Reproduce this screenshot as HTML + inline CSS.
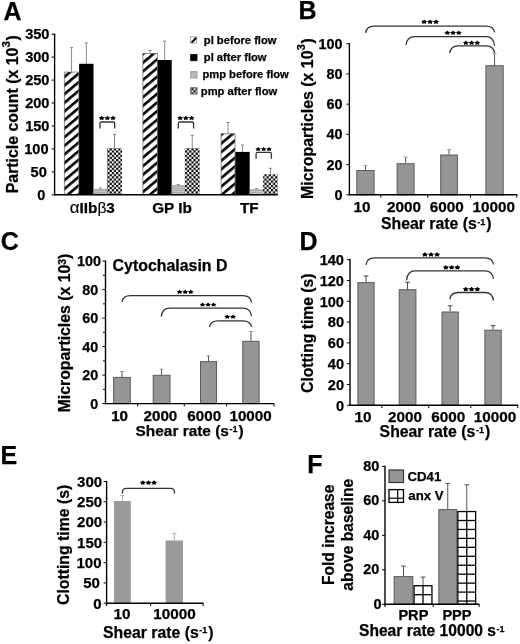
<!DOCTYPE html>
<html><head><meta charset="utf-8"><style>
html,body{margin:0;padding:0;background:#fff;}
body{width:520px;height:644px;overflow:hidden;}
svg{display:block;font-family:"Liberation Sans", sans-serif;will-change:transform;}
text{stroke:#000;stroke-width:0.25px;paint-order:stroke;}
</style></head><body>
<svg width="520" height="644" viewBox="0 0 520 644">
<rect width="520" height="644" fill="#fff"/>
<defs>
<pattern id="hatch" patternUnits="userSpaceOnUse" width="6.6" height="6.6" patternTransform="rotate(-40)">
<rect width="6.6" height="6.6" fill="#fff"/><rect y="0" width="6.6" height="2.6" fill="#000"/>
</pattern>
<pattern id="checker" patternUnits="userSpaceOnUse" width="4.3" height="4.3">
<rect width="4.3" height="4.3" fill="#fff"/><rect width="2.15" height="2.15" fill="#000"/><rect x="2.15" y="2.15" width="2.15" height="2.15" fill="#000"/>
</pattern>
<pattern id="grayln" patternUnits="userSpaceOnUse" width="4" height="2">
<rect width="4" height="2" fill="#c6c6c6"/><rect width="4" height="1" fill="#a8a8a8"/>
</pattern>
<pattern id="grid" patternUnits="userSpaceOnUse" x="0" y="600.4" width="9.6" height="8.95">
<rect width="9.6" height="8.95" fill="#fff"/><rect width="9.6" height="1.4" fill="#000"/>
</pattern>
</defs>
<text x="3.60" y="19.50" font-size="25" text-anchor="start" font-weight="bold" fill="#000" >A</text>
<line x1="71.55" y1="47.60" x2="71.55" y2="71.80" stroke="#8a8a8a" stroke-width="1"/>
<line x1="69.95" y1="47.60" x2="73.15" y2="47.60" stroke="#8a8a8a" stroke-width="1"/>
<line x1="86.30" y1="43.00" x2="86.30" y2="63.80" stroke="#8a8a8a" stroke-width="1"/>
<line x1="84.70" y1="43.00" x2="87.90" y2="43.00" stroke="#8a8a8a" stroke-width="1"/>
<line x1="100.25" y1="188.00" x2="100.25" y2="189.20" stroke="#8a8a8a" stroke-width="1"/>
<line x1="98.65" y1="188.00" x2="101.85" y2="188.00" stroke="#8a8a8a" stroke-width="1"/>
<line x1="114.50" y1="134.50" x2="114.50" y2="148.10" stroke="#8a8a8a" stroke-width="1"/>
<line x1="112.90" y1="134.50" x2="116.10" y2="134.50" stroke="#8a8a8a" stroke-width="1"/>
<rect x="64.30" y="72.10" width="14.50" height="122.70" fill="url(#hatch)" stroke="#666" stroke-width="0.7"/>
<rect x="79.10" y="63.80" width="14.40" height="131.00" fill="#000" stroke="none" stroke-width="1"/>
<rect x="93.80" y="189.20" width="12.90" height="5.60" fill="url(#grayln)" stroke="#999" stroke-width="0.6"/>
<rect x="107.00" y="148.10" width="15.00" height="46.70" fill="url(#checker)" stroke="none" stroke-width="1"/>
<line x1="150.10" y1="50.50" x2="150.10" y2="53.10" stroke="#8a8a8a" stroke-width="1"/>
<line x1="148.50" y1="50.50" x2="151.70" y2="50.50" stroke="#8a8a8a" stroke-width="1"/>
<line x1="164.65" y1="41.20" x2="164.65" y2="60.00" stroke="#8a8a8a" stroke-width="1"/>
<line x1="163.05" y1="41.20" x2="166.25" y2="41.20" stroke="#8a8a8a" stroke-width="1"/>
<line x1="178.25" y1="184.50" x2="178.25" y2="185.70" stroke="#8a8a8a" stroke-width="1"/>
<line x1="176.65" y1="184.50" x2="179.85" y2="184.50" stroke="#8a8a8a" stroke-width="1"/>
<line x1="192.25" y1="135.40" x2="192.25" y2="148.10" stroke="#8a8a8a" stroke-width="1"/>
<line x1="190.65" y1="135.40" x2="193.85" y2="135.40" stroke="#8a8a8a" stroke-width="1"/>
<rect x="142.90" y="53.40" width="14.40" height="141.40" fill="url(#hatch)" stroke="#666" stroke-width="0.7"/>
<rect x="157.60" y="60.00" width="14.10" height="134.80" fill="#000" stroke="none" stroke-width="1"/>
<rect x="172.00" y="185.70" width="12.50" height="9.10" fill="url(#grayln)" stroke="#999" stroke-width="0.6"/>
<rect x="184.80" y="148.10" width="14.90" height="46.70" fill="url(#checker)" stroke="none" stroke-width="1"/>
<line x1="228.05" y1="122.50" x2="228.05" y2="133.50" stroke="#8a8a8a" stroke-width="1"/>
<line x1="226.45" y1="122.50" x2="229.65" y2="122.50" stroke="#8a8a8a" stroke-width="1"/>
<line x1="242.50" y1="145.00" x2="242.50" y2="151.90" stroke="#8a8a8a" stroke-width="1"/>
<line x1="240.90" y1="145.00" x2="244.10" y2="145.00" stroke="#8a8a8a" stroke-width="1"/>
<line x1="256.40" y1="188.60" x2="256.40" y2="189.80" stroke="#8a8a8a" stroke-width="1"/>
<line x1="254.80" y1="188.60" x2="258.00" y2="188.60" stroke="#8a8a8a" stroke-width="1"/>
<line x1="270.40" y1="168.30" x2="270.40" y2="174.20" stroke="#8a8a8a" stroke-width="1"/>
<line x1="268.80" y1="168.30" x2="272.00" y2="168.30" stroke="#8a8a8a" stroke-width="1"/>
<rect x="221.10" y="133.80" width="13.90" height="61.00" fill="url(#hatch)" stroke="#666" stroke-width="0.7"/>
<rect x="235.30" y="151.90" width="14.40" height="42.90" fill="#000" stroke="none" stroke-width="1"/>
<rect x="250.00" y="189.80" width="12.80" height="5.00" fill="url(#grayln)" stroke="#999" stroke-width="0.6"/>
<rect x="263.10" y="174.20" width="14.60" height="20.60" fill="url(#checker)" stroke="none" stroke-width="1"/>
<line x1="54.60" y1="33.60" x2="54.60" y2="195.40" stroke="#000" stroke-width="1.4"/>
<line x1="54.00" y1="194.80" x2="277.90" y2="194.80" stroke="#000" stroke-width="1.4"/>
<line x1="51.60" y1="194.80" x2="54.60" y2="194.80" stroke="#000" stroke-width="1.0"/>
<line x1="51.60" y1="171.86" x2="54.60" y2="171.86" stroke="#000" stroke-width="1.0"/>
<line x1="51.60" y1="148.91" x2="54.60" y2="148.91" stroke="#000" stroke-width="1.0"/>
<line x1="51.60" y1="125.97" x2="54.60" y2="125.97" stroke="#000" stroke-width="1.0"/>
<line x1="51.60" y1="103.03" x2="54.60" y2="103.03" stroke="#000" stroke-width="1.0"/>
<line x1="51.60" y1="80.09" x2="54.60" y2="80.09" stroke="#000" stroke-width="1.0"/>
<line x1="51.60" y1="57.14" x2="54.60" y2="57.14" stroke="#000" stroke-width="1.0"/>
<line x1="51.60" y1="34.20" x2="54.60" y2="34.20" stroke="#000" stroke-width="1.0"/>
<text x="45.40" y="200.00" font-size="14.6" text-anchor="end" font-weight="bold" fill="#000" >0</text>
<text x="46.80" y="177.06" font-size="14.6" text-anchor="end" font-weight="bold" fill="#000" >50</text>
<text x="48.60" y="154.11" font-size="14.6" text-anchor="end" font-weight="bold" fill="#000" >100</text>
<text x="49.50" y="131.17" font-size="14.6" text-anchor="end" font-weight="bold" fill="#000" >150</text>
<text x="49.50" y="108.23" font-size="14.6" text-anchor="end" font-weight="bold" fill="#000" >200</text>
<text x="49.50" y="85.29" font-size="14.6" text-anchor="end" font-weight="bold" fill="#000" >250</text>
<text x="49.50" y="62.34" font-size="14.6" text-anchor="end" font-weight="bold" fill="#000" >300</text>
<text x="49.50" y="39.40" font-size="14.6" text-anchor="end" font-weight="bold" fill="#000" >350</text>
<text transform="translate(18.20,193.30) rotate(-90)" font-size="15.90" text-anchor="start" font-weight="bold">Particle count (x 10<tspan dy="-7.9" font-size="11.5">3</tspan><tspan dy="7.9" dx="0.6">)</tspan></text>
<path d="M100.00,128.60 L100.00,123.50 Q100.00,122.00 101.50,122.00 L113.20,122.00 Q114.70,122.00 114.70,123.50 L114.70,128.60" fill="none" stroke="#333" stroke-width="1.3"/>
<polygon points="101.72,115.78 102.76,117.07 104.72,117.41 103.40,118.54 103.57,120.04 101.72,119.45 99.86,120.04 100.04,118.54 98.72,117.41 100.68,117.07" fill="#000"/>
<polygon points="107.35,115.78 108.39,117.07 110.35,117.41 109.03,118.54 109.20,120.04 107.35,119.45 105.50,120.04 105.67,118.54 104.35,117.41 106.31,117.07" fill="#000"/>
<polygon points="112.98,115.78 114.02,117.07 115.98,117.41 114.66,118.54 114.84,120.04 112.98,119.45 111.13,120.04 111.30,118.54 109.98,117.41 111.94,117.07" fill="#000"/>
<path d="M178.30,128.60 L178.30,123.50 Q178.30,122.00 179.80,122.00 L192.10,122.00 Q193.60,122.00 193.60,123.50 L193.60,128.60" fill="none" stroke="#333" stroke-width="1.3"/>
<polygon points="180.15,115.78 181.20,117.07 183.19,117.41 181.85,118.54 182.03,120.04 180.15,119.45 178.27,120.04 178.45,118.54 177.11,117.41 179.10,117.07" fill="#000"/>
<polygon points="185.85,115.78 186.90,117.07 188.89,117.41 187.55,118.54 187.73,120.04 185.85,119.45 183.97,120.04 184.15,118.54 182.81,117.41 184.80,117.07" fill="#000"/>
<polygon points="191.55,115.78 192.60,117.07 194.59,117.41 193.25,118.54 193.43,120.04 191.55,119.45 189.67,120.04 189.85,118.54 188.51,117.41 190.50,117.07" fill="#000"/>
<path d="M256.10,158.70 L256.10,153.90 Q256.10,152.40 257.60,152.40 L269.90,152.40 Q271.40,152.40 271.40,153.90 L271.40,158.70" fill="none" stroke="#333" stroke-width="1.3"/>
<polygon points="258.13,146.98 259.14,148.21 261.04,148.53 259.76,149.61 259.93,151.04 258.13,150.48 256.33,151.04 256.50,149.61 255.22,148.53 257.13,148.21" fill="#000"/>
<polygon points="263.60,146.98 264.61,148.21 266.51,148.53 265.23,149.61 265.40,151.04 263.60,150.48 261.80,151.04 261.97,149.61 260.69,148.53 262.59,148.21" fill="#000"/>
<polygon points="269.07,146.98 270.07,148.21 271.98,148.53 270.70,149.61 270.87,151.04 269.07,150.48 267.27,151.04 267.44,149.61 266.16,148.53 268.06,148.21" fill="#000"/>
<text x="92.30" y="213.00" font-size="15.3" text-anchor="middle" font-weight="bold" fill="#000" ><tspan font-weight="normal" font-size="17" stroke-width="0.15">&#945;</tspan>IIb<tspan font-weight="normal" font-size="15.5" stroke-width="0.15">&#946;</tspan>3</text>
<text x="172.00" y="213.00" font-size="15.3" text-anchor="middle" font-weight="bold" fill="#000" >GP Ib</text>
<text x="249.30" y="212.70" font-size="15.3" text-anchor="middle" font-weight="bold" fill="#000" >TF</text>
<rect x="190.40" y="36.80" width="6.30" height="6.30" fill="#fff" stroke="#999" stroke-width="0.8"/>
<line x1="191.60" y1="42.60" x2="196.30" y2="37.80" stroke="#000" stroke-width="2.0"/>
<rect x="190.70" y="54.40" width="6.30" height="6.30" fill="#000" stroke="#000" stroke-width="0.8"/>
<rect x="190.70" y="71.70" width="6.30" height="6.30" fill="#bbb" stroke="#888" stroke-width="0.8"/>
<rect x="190.70" y="87.70" width="6.30" height="6.30" fill="url(#checker)" stroke="#555" stroke-width="0.8"/>
<text x="203.80" y="43.60" font-size="11.2" text-anchor="start" font-weight="bold" fill="#000" >pl before flow</text>
<text x="203.80" y="60.80" font-size="11.2" text-anchor="start" font-weight="bold" fill="#000" >pl after flow</text>
<text x="202.40" y="78.00" font-size="11.2" text-anchor="start" font-weight="bold" fill="#000" >pmp before flow</text>
<text x="200.80" y="95.00" font-size="11.2" text-anchor="start" font-weight="bold" fill="#000" >pmp after flow</text>
<text x="298.40" y="19.30" font-size="25" text-anchor="start" font-weight="bold" fill="#000" >B</text>
<line x1="365.45" y1="165.70" x2="365.45" y2="170.00" stroke="#555" stroke-width="1"/>
<line x1="363.45" y1="165.70" x2="367.45" y2="165.70" stroke="#999" stroke-width="1"/>
<rect x="356.80" y="170.50" width="17.30" height="24.30" fill="#959595" stroke="#5c5c5c" stroke-width="1"/>
<line x1="405.60" y1="157.10" x2="405.60" y2="163.20" stroke="#555" stroke-width="1"/>
<line x1="403.60" y1="157.10" x2="407.60" y2="157.10" stroke="#999" stroke-width="1"/>
<rect x="397.10" y="163.70" width="17.00" height="31.10" fill="#959595" stroke="#5c5c5c" stroke-width="1"/>
<line x1="449.05" y1="149.60" x2="449.05" y2="154.50" stroke="#555" stroke-width="1"/>
<line x1="447.05" y1="149.60" x2="451.05" y2="149.60" stroke="#999" stroke-width="1"/>
<rect x="440.70" y="155.00" width="16.70" height="39.80" fill="#959595" stroke="#5c5c5c" stroke-width="1"/>
<line x1="494.55" y1="53.80" x2="494.55" y2="65.20" stroke="#555" stroke-width="1"/>
<line x1="492.55" y1="53.80" x2="496.55" y2="53.80" stroke="#999" stroke-width="1"/>
<rect x="485.90" y="65.70" width="17.30" height="129.10" fill="#959595" stroke="#5c5c5c" stroke-width="1"/>
<line x1="349.40" y1="43.10" x2="349.40" y2="195.40" stroke="#000" stroke-width="1.4"/>
<line x1="348.80" y1="194.80" x2="517.20" y2="194.80" stroke="#000" stroke-width="1.4"/>
<line x1="346.40" y1="194.80" x2="349.40" y2="194.80" stroke="#000" stroke-width="1.0"/>
<text x="342.60" y="199.90" font-size="14.4" text-anchor="end" font-weight="bold" fill="#000" >0</text>
<line x1="346.40" y1="164.58" x2="349.40" y2="164.58" stroke="#000" stroke-width="1.0"/>
<text x="342.60" y="169.68" font-size="14.4" text-anchor="end" font-weight="bold" fill="#000" >20</text>
<line x1="346.40" y1="134.36" x2="349.40" y2="134.36" stroke="#000" stroke-width="1.0"/>
<text x="342.60" y="139.46" font-size="14.4" text-anchor="end" font-weight="bold" fill="#000" >40</text>
<line x1="346.40" y1="104.14" x2="349.40" y2="104.14" stroke="#000" stroke-width="1.0"/>
<text x="342.60" y="109.24" font-size="14.4" text-anchor="end" font-weight="bold" fill="#000" >60</text>
<line x1="346.40" y1="73.92" x2="349.40" y2="73.92" stroke="#000" stroke-width="1.0"/>
<text x="342.60" y="79.02" font-size="14.4" text-anchor="end" font-weight="bold" fill="#000" >80</text>
<line x1="346.40" y1="43.70" x2="349.40" y2="43.70" stroke="#000" stroke-width="1.0"/>
<text x="342.60" y="48.80" font-size="14.4" text-anchor="end" font-weight="bold" fill="#000" >100</text>
<line x1="380.80" y1="194.80" x2="380.80" y2="197.60" stroke="#000" stroke-width="1.0"/>
<line x1="427.70" y1="194.80" x2="427.70" y2="197.60" stroke="#000" stroke-width="1.0"/>
<line x1="470.50" y1="194.80" x2="470.50" y2="197.60" stroke="#000" stroke-width="1.0"/>
<line x1="516.80" y1="194.80" x2="516.80" y2="197.60" stroke="#000" stroke-width="1.0"/>
<path d="M365.60,32.90 Q366.60,26.20 374.10,26.20 L486.10,26.20 Q493.60,26.20 494.60,32.40" fill="none" stroke="#333" stroke-width="1.3"/>
<polygon points="424.17,19.38 425.26,20.76 427.33,21.12 425.94,22.34 426.12,23.94 424.17,23.31 422.21,23.94 422.40,22.34 421.01,21.12 423.07,20.76" fill="#000"/>
<polygon points="430.10,19.38 431.19,20.76 433.26,21.12 431.87,22.34 432.05,23.94 430.10,23.31 428.15,23.94 428.33,22.34 426.94,21.12 429.01,20.76" fill="#000"/>
<polygon points="436.03,19.38 437.13,20.76 439.19,21.12 437.80,22.34 437.99,23.94 436.03,23.31 434.08,23.94 434.26,22.34 432.87,21.12 434.94,20.76" fill="#000"/>
<path d="M406.00,45.00 Q407.00,36.60 414.50,36.60 L486.10,36.60 Q493.60,36.60 494.60,45.70" fill="none" stroke="#333" stroke-width="1.3"/>
<polygon points="447.35,30.38 448.40,31.73 450.39,32.08 449.05,33.27 449.23,34.84 447.35,34.23 445.47,34.84 445.65,33.27 444.31,32.08 446.30,31.73" fill="#000"/>
<polygon points="453.05,30.38 454.10,31.73 456.09,32.08 454.75,33.27 454.93,34.84 453.05,34.23 451.17,34.84 451.35,33.27 450.01,32.08 452.00,31.73" fill="#000"/>
<polygon points="458.75,30.38 459.80,31.73 461.79,32.08 460.45,33.27 460.63,34.84 458.75,34.23 456.87,34.84 457.05,33.27 455.71,32.08 457.70,31.73" fill="#000"/>
<path d="M449.70,53.00 Q450.70,45.80 458.20,45.80 L486.10,45.80 Q493.60,45.80 494.60,53.00" fill="none" stroke="#333" stroke-width="1.3"/>
<polygon points="465.87,40.48 466.92,41.83 468.92,42.18 467.58,43.37 467.75,44.94 465.87,44.33 463.98,44.94 464.16,43.37 462.81,42.18 464.81,41.83" fill="#000"/>
<polygon points="471.60,40.48 472.66,41.83 474.65,42.18 473.31,43.37 473.49,44.94 471.60,44.33 469.71,44.94 469.89,43.37 468.55,42.18 470.54,41.83" fill="#000"/>
<polygon points="477.33,40.48 478.39,41.83 480.39,42.18 479.04,43.37 479.22,44.94 477.33,44.33 475.45,44.94 475.62,43.37 474.28,42.18 476.28,41.83" fill="#000"/>
<text x="361.90" y="212.30" font-size="15.3" text-anchor="middle" font-weight="bold" fill="#000" >10</text>
<text x="404.10" y="212.30" font-size="15.3" text-anchor="middle" font-weight="bold" fill="#000" >2000</text>
<text x="446.70" y="212.30" font-size="15.3" text-anchor="middle" font-weight="bold" fill="#000" >6000</text>
<text x="493.80" y="212.30" font-size="15.3" text-anchor="middle" font-weight="bold" fill="#000" >10000</text>
<text x="381.00" y="228.80" font-size="15.8" text-anchor="start" font-weight="bold" fill="#000" >Shear rate (s<tspan dy="-4.3" dx="0.6" font-size="9">-1</tspan><tspan dy="4.3" dx="1">)</tspan></text>
<text transform="translate(313.30,198.90) rotate(-90)" font-size="15.90" text-anchor="start" font-weight="bold">Microparticles (x 10<tspan dy="-8.0" font-size="11.5">3</tspan><tspan dy="8.0" dx="0.6">)</tspan></text>
<text x="0.80" y="249.90" font-size="25" text-anchor="start" font-weight="bold" fill="#000" >C</text>
<line x1="121.95" y1="371.50" x2="121.95" y2="376.90" stroke="#555" stroke-width="1"/>
<line x1="119.95" y1="371.50" x2="123.95" y2="371.50" stroke="#999" stroke-width="1"/>
<rect x="113.60" y="377.40" width="16.70" height="26.20" fill="#959595" stroke="#5c5c5c" stroke-width="1"/>
<line x1="161.60" y1="369.20" x2="161.60" y2="374.80" stroke="#555" stroke-width="1"/>
<line x1="159.60" y1="369.20" x2="163.60" y2="369.20" stroke="#999" stroke-width="1"/>
<rect x="153.20" y="375.30" width="16.80" height="28.30" fill="#959595" stroke="#5c5c5c" stroke-width="1"/>
<line x1="208.50" y1="355.80" x2="208.50" y2="361.10" stroke="#555" stroke-width="1"/>
<line x1="206.50" y1="355.80" x2="210.50" y2="355.80" stroke="#999" stroke-width="1"/>
<rect x="200.50" y="361.60" width="16.00" height="42.00" fill="#959595" stroke="#5c5c5c" stroke-width="1"/>
<line x1="250.95" y1="331.50" x2="250.95" y2="340.80" stroke="#555" stroke-width="1"/>
<line x1="248.95" y1="331.50" x2="252.95" y2="331.50" stroke="#999" stroke-width="1"/>
<rect x="242.80" y="341.30" width="16.30" height="62.30" fill="#959595" stroke="#5c5c5c" stroke-width="1"/>
<line x1="105.50" y1="260.50" x2="105.50" y2="404.20" stroke="#000" stroke-width="1.4"/>
<line x1="104.90" y1="403.60" x2="274.20" y2="403.60" stroke="#000" stroke-width="1.4"/>
<line x1="102.40" y1="403.60" x2="105.50" y2="403.60" stroke="#000" stroke-width="1.0"/>
<line x1="103.00" y1="389.35" x2="105.50" y2="389.35" stroke="#000" stroke-width="1.0"/>
<line x1="102.40" y1="375.10" x2="105.50" y2="375.10" stroke="#000" stroke-width="1.0"/>
<line x1="103.00" y1="360.85" x2="105.50" y2="360.85" stroke="#000" stroke-width="1.0"/>
<line x1="102.40" y1="346.60" x2="105.50" y2="346.60" stroke="#000" stroke-width="1.0"/>
<line x1="103.00" y1="332.35" x2="105.50" y2="332.35" stroke="#000" stroke-width="1.0"/>
<line x1="102.40" y1="318.10" x2="105.50" y2="318.10" stroke="#000" stroke-width="1.0"/>
<line x1="103.00" y1="303.85" x2="105.50" y2="303.85" stroke="#000" stroke-width="1.0"/>
<line x1="102.40" y1="289.60" x2="105.50" y2="289.60" stroke="#000" stroke-width="1.0"/>
<line x1="103.00" y1="275.35" x2="105.50" y2="275.35" stroke="#000" stroke-width="1.0"/>
<line x1="102.40" y1="261.10" x2="105.50" y2="261.10" stroke="#000" stroke-width="1.0"/>
<text x="98.30" y="408.70" font-size="14.4" text-anchor="end" font-weight="bold" fill="#000" >0</text>
<text x="98.30" y="380.20" font-size="14.4" text-anchor="end" font-weight="bold" fill="#000" >20</text>
<text x="98.30" y="351.70" font-size="14.4" text-anchor="end" font-weight="bold" fill="#000" >40</text>
<text x="98.30" y="323.20" font-size="14.4" text-anchor="end" font-weight="bold" fill="#000" >60</text>
<text x="98.30" y="294.70" font-size="14.4" text-anchor="end" font-weight="bold" fill="#000" >80</text>
<text x="100.90" y="266.20" font-size="14.4" text-anchor="end" font-weight="bold" fill="#000" >100</text>
<line x1="137.70" y1="403.60" x2="137.70" y2="406.40" stroke="#000" stroke-width="1.0"/>
<line x1="184.30" y1="403.60" x2="184.30" y2="406.40" stroke="#000" stroke-width="1.0"/>
<line x1="226.60" y1="403.60" x2="226.60" y2="406.40" stroke="#000" stroke-width="1.0"/>
<line x1="274.00" y1="403.60" x2="274.00" y2="406.40" stroke="#000" stroke-width="1.0"/>
<path d="M122.00,302.00 Q123.00,295.60 130.50,295.60 L243.00,295.60 Q250.50,295.60 251.50,302.30" fill="none" stroke="#333" stroke-width="1.3"/>
<polygon points="179.67,289.58 180.69,290.90 182.61,291.25 181.32,292.41 181.49,293.94 179.67,293.34 177.85,293.94 178.02,292.41 176.72,291.25 178.65,290.90" fill="#000"/>
<polygon points="185.20,289.58 186.22,290.90 188.15,291.25 186.85,292.41 187.02,293.94 185.20,293.34 183.38,293.94 183.55,292.41 182.25,291.25 184.18,290.90" fill="#000"/>
<polygon points="190.73,289.58 191.75,290.90 193.68,291.25 192.38,292.41 192.55,293.94 190.73,293.34 188.91,293.94 189.08,292.41 187.79,291.25 189.71,290.90" fill="#000"/>
<path d="M161.30,316.60 Q162.30,308.20 169.80,308.20 L243.00,308.20 Q250.50,308.20 251.50,316.20" fill="none" stroke="#333" stroke-width="1.3"/>
<polygon points="202.48,302.48 203.51,303.71 205.45,304.03 204.14,305.11 204.32,306.54 202.48,305.98 200.65,306.54 200.82,305.11 199.52,304.03 201.46,303.71" fill="#000"/>
<polygon points="208.05,302.48 209.08,303.71 211.01,304.03 209.71,305.11 209.88,306.54 208.05,305.98 206.22,306.54 206.39,305.11 205.09,304.03 207.02,303.71" fill="#000"/>
<polygon points="213.62,302.48 214.64,303.71 216.58,304.03 215.28,305.11 215.45,306.54 213.62,305.98 211.78,306.54 211.96,305.11 210.65,304.03 212.59,303.71" fill="#000"/>
<path d="M209.40,327.00 Q210.40,320.80 217.90,320.80 L243.10,320.80 Q250.60,320.80 251.60,327.00" fill="none" stroke="#333" stroke-width="1.3"/>
<polygon points="227.28,314.48 228.33,315.74 230.34,316.07 228.99,317.18 229.17,318.64 227.28,318.07 225.38,318.64 225.56,317.18 224.21,316.07 226.22,315.74" fill="#000"/>
<polygon points="233.03,314.48 234.08,315.74 236.09,316.07 234.74,317.18 234.92,318.64 233.03,318.07 231.13,318.64 231.31,317.18 229.96,316.07 231.97,315.74" fill="#000"/>
<text x="112.60" y="271.30" font-size="15.9" text-anchor="start" font-weight="bold" fill="#000" >Cytochalasin D</text>
<text x="135.60" y="436.30" font-size="15.4" text-anchor="start" font-weight="bold" fill="#000" >Shear rate (s<tspan dy="-4.3" dx="0.6" font-size="9">-1</tspan><tspan dy="4.3" dx="1">)</tspan></text>
<text x="119.60" y="420.70" font-size="15.2" text-anchor="middle" font-weight="bold" fill="#000" >10</text>
<text x="160.40" y="420.70" font-size="15.2" text-anchor="middle" font-weight="bold" fill="#000" >2000</text>
<text x="204.20" y="420.70" font-size="15.2" text-anchor="middle" font-weight="bold" fill="#000" >6000</text>
<text x="250.60" y="420.70" font-size="15.2" text-anchor="middle" font-weight="bold" fill="#000" >10000</text>
<text transform="translate(70.20,412.30) rotate(-90)" font-size="15.80" text-anchor="start" font-weight="bold">Microparticles (x 10<tspan dy="-4.4" font-size="10.5">3</tspan><tspan dy="4.4">)</tspan></text>
<text x="299.60" y="250.30" font-size="25" text-anchor="start" font-weight="bold" fill="#000" >D</text>
<line x1="366.00" y1="276.00" x2="366.00" y2="282.10" stroke="#444" stroke-width="1"/>
<line x1="363.60" y1="276.00" x2="368.40" y2="276.00" stroke="#444" stroke-width="1"/>
<rect x="357.90" y="282.60" width="16.20" height="122.70" fill="#959595" stroke="#5c5c5c" stroke-width="1"/>
<line x1="407.55" y1="282.20" x2="407.55" y2="289.20" stroke="#444" stroke-width="1"/>
<line x1="405.15" y1="282.20" x2="409.95" y2="282.20" stroke="#444" stroke-width="1"/>
<rect x="399.20" y="289.70" width="16.70" height="115.60" fill="#959595" stroke="#5c5c5c" stroke-width="1"/>
<line x1="450.15" y1="305.80" x2="450.15" y2="311.50" stroke="#444" stroke-width="1"/>
<line x1="447.75" y1="305.80" x2="452.55" y2="305.80" stroke="#444" stroke-width="1"/>
<rect x="442.00" y="312.00" width="16.30" height="93.30" fill="#959595" stroke="#5c5c5c" stroke-width="1"/>
<line x1="493.05" y1="325.70" x2="493.05" y2="329.70" stroke="#444" stroke-width="1"/>
<line x1="490.65" y1="325.70" x2="495.45" y2="325.70" stroke="#444" stroke-width="1"/>
<rect x="484.90" y="330.20" width="16.30" height="75.10" fill="#959595" stroke="#5c5c5c" stroke-width="1"/>
<line x1="350.00" y1="259.10" x2="350.00" y2="405.90" stroke="#000" stroke-width="1.4"/>
<line x1="349.40" y1="405.30" x2="518.20" y2="405.30" stroke="#000" stroke-width="1.4"/>
<line x1="347.00" y1="405.30" x2="350.00" y2="405.30" stroke="#000" stroke-width="1.0"/>
<text x="344.00" y="410.50" font-size="14.6" text-anchor="end" font-weight="bold" fill="#000" >0</text>
<line x1="347.00" y1="384.50" x2="350.00" y2="384.50" stroke="#000" stroke-width="1.0"/>
<text x="344.00" y="389.70" font-size="14.6" text-anchor="end" font-weight="bold" fill="#000" >20</text>
<line x1="347.00" y1="363.70" x2="350.00" y2="363.70" stroke="#000" stroke-width="1.0"/>
<text x="344.00" y="368.90" font-size="14.6" text-anchor="end" font-weight="bold" fill="#000" >40</text>
<line x1="347.00" y1="342.90" x2="350.00" y2="342.90" stroke="#000" stroke-width="1.0"/>
<text x="344.00" y="348.10" font-size="14.6" text-anchor="end" font-weight="bold" fill="#000" >60</text>
<line x1="347.00" y1="322.10" x2="350.00" y2="322.10" stroke="#000" stroke-width="1.0"/>
<text x="344.00" y="327.30" font-size="14.6" text-anchor="end" font-weight="bold" fill="#000" >80</text>
<line x1="347.00" y1="301.30" x2="350.00" y2="301.30" stroke="#000" stroke-width="1.0"/>
<text x="344.00" y="306.50" font-size="14.6" text-anchor="end" font-weight="bold" fill="#000" >100</text>
<line x1="347.00" y1="280.50" x2="350.00" y2="280.50" stroke="#000" stroke-width="1.0"/>
<text x="344.00" y="285.70" font-size="14.6" text-anchor="end" font-weight="bold" fill="#000" >120</text>
<line x1="347.00" y1="259.70" x2="350.00" y2="259.70" stroke="#000" stroke-width="1.0"/>
<text x="344.00" y="264.90" font-size="14.6" text-anchor="end" font-weight="bold" fill="#000" >140</text>
<line x1="381.90" y1="405.30" x2="381.90" y2="408.10" stroke="#000" stroke-width="1.0"/>
<line x1="428.70" y1="405.30" x2="428.70" y2="408.10" stroke="#000" stroke-width="1.0"/>
<line x1="470.80" y1="405.30" x2="470.80" y2="408.10" stroke="#000" stroke-width="1.0"/>
<line x1="517.80" y1="405.30" x2="517.80" y2="408.10" stroke="#000" stroke-width="1.0"/>
<path d="M366.00,264.80 Q367.00,257.90 374.50,257.90 L485.00,257.90 Q492.50,257.90 493.50,264.50" fill="none" stroke="#333" stroke-width="1.3"/>
<polygon points="424.93,251.98 426.05,253.42 428.16,253.80 426.74,255.07 426.93,256.74 424.93,256.09 422.94,256.74 423.12,255.07 421.70,253.80 423.82,253.42" fill="#000"/>
<polygon points="431.00,251.98 432.12,253.42 434.23,253.80 432.81,255.07 433.00,256.74 431.00,256.09 429.00,256.74 429.19,255.07 427.77,253.80 429.88,253.42" fill="#000"/>
<polygon points="437.07,251.98 438.18,253.42 440.30,253.80 438.88,255.07 439.06,256.74 437.07,256.09 435.07,256.74 435.26,255.07 433.84,253.80 435.95,253.42" fill="#000"/>
<path d="M406.50,280.20 Q407.50,270.90 415.00,270.90 L485.00,270.90 Q492.50,270.90 493.50,279.00" fill="none" stroke="#333" stroke-width="1.3"/>
<polygon points="445.88,264.98 446.95,266.36 448.95,266.72 447.60,267.94 447.78,269.54 445.88,268.91 443.99,269.54 444.16,267.94 442.81,266.72 444.82,266.36" fill="#000"/>
<polygon points="451.65,264.98 452.71,266.36 454.72,266.72 453.37,267.94 453.55,269.54 451.65,268.91 449.75,269.54 449.93,267.94 448.58,266.72 450.59,266.36" fill="#000"/>
<polygon points="457.42,264.98 458.48,266.36 460.49,266.72 459.14,267.94 459.31,269.54 457.42,268.91 455.52,269.54 455.70,267.94 454.35,266.72 456.35,266.36" fill="#000"/>
<path d="M449.80,299.20 Q450.80,292.50 458.30,292.50 L485.00,292.50 Q492.50,292.50 493.50,300.50" fill="none" stroke="#333" stroke-width="1.3"/>
<polygon points="465.78,286.68 466.85,288.09 468.85,288.46 467.50,289.70 467.68,291.34 465.78,290.70 463.89,291.34 464.06,289.70 462.71,288.46 464.72,288.09" fill="#000"/>
<polygon points="471.55,286.68 472.61,288.09 474.62,288.46 473.27,289.70 473.45,291.34 471.55,290.70 469.65,291.34 469.83,289.70 468.48,288.46 470.49,288.09" fill="#000"/>
<polygon points="477.32,286.68 478.38,288.09 480.39,288.46 479.04,289.70 479.21,291.34 477.32,290.70 475.42,291.34 475.60,289.70 474.25,288.46 476.25,288.09" fill="#000"/>
<text x="363.10" y="422.30" font-size="15.3" text-anchor="middle" font-weight="bold" fill="#000" >10</text>
<text x="404.90" y="422.30" font-size="15.3" text-anchor="middle" font-weight="bold" fill="#000" >2000</text>
<text x="448.30" y="422.30" font-size="15.3" text-anchor="middle" font-weight="bold" fill="#000" >6000</text>
<text x="495.00" y="422.30" font-size="15.3" text-anchor="middle" font-weight="bold" fill="#000" >10000</text>
<text x="379.60" y="436.90" font-size="15.8" text-anchor="start" font-weight="bold" fill="#000" >Shear rate (s<tspan dy="-4.3" dx="0.6" font-size="9">-1</tspan><tspan dy="4.3" dx="1">)</tspan></text>
<text transform="translate(313.30,392.90) rotate(-90)" font-size="15.70" text-anchor="start" font-weight="bold">Clotting time (s)</text>
<text x="0.40" y="464.30" font-size="25" text-anchor="start" font-weight="bold" fill="#000" >E</text>
<line x1="122.40" y1="495.60" x2="122.40" y2="501.00" stroke="#b0b0b0" stroke-width="1"/>
<line x1="120.20" y1="495.60" x2="124.60" y2="495.60" stroke="#b0b0b0" stroke-width="1"/>
<rect x="114.00" y="501.00" width="16.80" height="102.20" fill="#9a9a9a" stroke="none" stroke-width="1"/>
<line x1="174.30" y1="533.30" x2="174.30" y2="540.50" stroke="#b0b0b0" stroke-width="1"/>
<line x1="172.10" y1="533.30" x2="176.50" y2="533.30" stroke="#b0b0b0" stroke-width="1"/>
<rect x="165.60" y="540.50" width="17.40" height="62.70" fill="#9a9a9a" stroke="none" stroke-width="1"/>
<line x1="106.60" y1="480.90" x2="106.60" y2="605.80" stroke="#000" stroke-width="1.4"/>
<line x1="106.00" y1="603.20" x2="203.40" y2="603.20" stroke="#000" stroke-width="1.4"/>
<line x1="103.60" y1="603.20" x2="106.60" y2="603.20" stroke="#000" stroke-width="1.0"/>
<text x="101.50" y="608.50" font-size="15.0" text-anchor="end" font-weight="bold" fill="#000" >0</text>
<line x1="103.60" y1="582.92" x2="106.60" y2="582.92" stroke="#000" stroke-width="1.0"/>
<text x="99.90" y="588.22" font-size="15.0" text-anchor="end" font-weight="bold" fill="#000" >50</text>
<line x1="103.60" y1="562.63" x2="106.60" y2="562.63" stroke="#000" stroke-width="1.0"/>
<text x="101.50" y="567.93" font-size="15.0" text-anchor="end" font-weight="bold" fill="#000" >100</text>
<line x1="103.60" y1="542.35" x2="106.60" y2="542.35" stroke="#000" stroke-width="1.0"/>
<text x="102.10" y="547.65" font-size="15.0" text-anchor="end" font-weight="bold" fill="#000" >150</text>
<line x1="103.60" y1="522.07" x2="106.60" y2="522.07" stroke="#000" stroke-width="1.0"/>
<text x="102.10" y="527.37" font-size="15.0" text-anchor="end" font-weight="bold" fill="#000" >200</text>
<line x1="103.60" y1="501.78" x2="106.60" y2="501.78" stroke="#000" stroke-width="1.0"/>
<text x="102.10" y="507.08" font-size="15.0" text-anchor="end" font-weight="bold" fill="#000" >250</text>
<line x1="103.60" y1="481.50" x2="106.60" y2="481.50" stroke="#000" stroke-width="1.0"/>
<text x="102.10" y="486.80" font-size="15.0" text-anchor="end" font-weight="bold" fill="#000" >300</text>
<line x1="150.60" y1="603.20" x2="150.60" y2="606.00" stroke="#000" stroke-width="1.0"/>
<line x1="203.10" y1="603.20" x2="203.10" y2="606.00" stroke="#000" stroke-width="1.0"/>
<path d="M122.40,493.80 L122.40,492.30 Q122.40,488.30 126.40,488.30 L170.50,488.30 Q174.50,488.30 174.50,492.30 L174.50,493.80" fill="none" stroke="#333" stroke-width="1.2"/>
<polygon points="142.82,480.18 143.86,481.59 145.82,481.96 144.50,483.20 144.67,484.84 142.82,484.20 140.96,484.84 141.14,483.20 139.82,481.96 141.78,481.59" fill="#000"/>
<polygon points="148.45,480.18 149.49,481.59 151.45,481.96 150.13,483.20 150.30,484.84 148.45,484.20 146.60,484.84 146.77,483.20 145.45,481.96 147.41,481.59" fill="#000"/>
<polygon points="154.08,480.18 155.12,481.59 157.08,481.96 155.76,483.20 155.94,484.84 154.08,484.20 152.23,484.84 152.40,483.20 151.08,481.96 153.04,481.59" fill="#000"/>
<text x="121.90" y="619.30" font-size="15.3" text-anchor="middle" font-weight="bold" fill="#000" >10</text>
<text x="174.60" y="619.30" font-size="15.3" text-anchor="middle" font-weight="bold" fill="#000" >10000</text>
<text x="103.00" y="637.70" font-size="15.8" text-anchor="start" font-weight="bold" fill="#000" >Shear rate (s<tspan dy="-4.3" dx="0.6" font-size="9">-1</tspan><tspan dy="4.3" dx="1">)</tspan></text>
<text transform="translate(69.20,605.00) rotate(-90)" font-size="15.80" text-anchor="start" font-weight="bold">Clotting time (s)</text>
<text x="307.30" y="473.10" font-size="25" text-anchor="start" font-weight="bold" fill="#000" >F</text>
<line x1="403.50" y1="566.10" x2="403.50" y2="576.10" stroke="#555" stroke-width="1"/>
<line x1="401.10" y1="566.10" x2="405.90" y2="566.10" stroke="#555" stroke-width="1"/>
<line x1="423.00" y1="577.10" x2="423.00" y2="585.10" stroke="#555" stroke-width="1"/>
<line x1="420.60" y1="577.10" x2="425.40" y2="577.10" stroke="#555" stroke-width="1"/>
<line x1="447.75" y1="483.50" x2="447.75" y2="509.10" stroke="#555" stroke-width="1"/>
<line x1="445.35" y1="483.50" x2="450.15" y2="483.50" stroke="#555" stroke-width="1"/>
<line x1="466.75" y1="484.80" x2="466.75" y2="510.90" stroke="#555" stroke-width="1"/>
<line x1="464.35" y1="484.80" x2="469.15" y2="484.80" stroke="#555" stroke-width="1"/>
<rect x="394.10" y="576.60" width="18.80" height="27.70" fill="#959595" stroke="#5c5c5c" stroke-width="1"/>
<rect x="414.05" y="585.75" width="17.90" height="18.55" fill="#fff" stroke="#000" stroke-width="1.3"/>
<line x1="414.05" y1="594.70" x2="431.95" y2="594.70" stroke="#000" stroke-width="1.3"/>
<line x1="423.00" y1="585.10" x2="423.00" y2="604.30" stroke="#000" stroke-width="1.3"/>
<rect x="438.80" y="509.60" width="17.90" height="94.70" fill="#959595" stroke="#5c5c5c" stroke-width="1"/>
<rect x="457.85" y="511.55" width="17.80" height="92.75" fill="#fff" stroke="#000" stroke-width="1.3"/>
<line x1="457.85" y1="520.50" x2="475.65" y2="520.50" stroke="#000" stroke-width="1.3"/>
<line x1="457.85" y1="529.45" x2="475.65" y2="529.45" stroke="#000" stroke-width="1.3"/>
<line x1="457.85" y1="538.40" x2="475.65" y2="538.40" stroke="#000" stroke-width="1.3"/>
<line x1="457.85" y1="547.35" x2="475.65" y2="547.35" stroke="#000" stroke-width="1.3"/>
<line x1="457.85" y1="556.30" x2="475.65" y2="556.30" stroke="#000" stroke-width="1.3"/>
<line x1="457.85" y1="565.25" x2="475.65" y2="565.25" stroke="#000" stroke-width="1.3"/>
<line x1="457.85" y1="574.20" x2="475.65" y2="574.20" stroke="#000" stroke-width="1.3"/>
<line x1="457.85" y1="583.15" x2="475.65" y2="583.15" stroke="#000" stroke-width="1.3"/>
<line x1="457.85" y1="592.10" x2="475.65" y2="592.10" stroke="#000" stroke-width="1.3"/>
<line x1="457.85" y1="601.05" x2="475.65" y2="601.05" stroke="#000" stroke-width="1.3"/>
<line x1="466.75" y1="510.90" x2="466.75" y2="604.30" stroke="#000" stroke-width="1.3"/>
<line x1="385.00" y1="465.80" x2="385.00" y2="606.80" stroke="#000" stroke-width="1.4"/>
<line x1="384.40" y1="604.30" x2="479.40" y2="604.30" stroke="#000" stroke-width="1.4"/>
<line x1="382.00" y1="604.30" x2="385.00" y2="604.30" stroke="#000" stroke-width="1.0"/>
<text x="381.60" y="608.70" font-size="14.5" text-anchor="end" font-weight="bold" fill="#000" >0</text>
<line x1="382.00" y1="569.82" x2="385.00" y2="569.82" stroke="#000" stroke-width="1.0"/>
<text x="379.30" y="574.22" font-size="14.5" text-anchor="end" font-weight="bold" fill="#000" >20</text>
<line x1="382.00" y1="535.35" x2="385.00" y2="535.35" stroke="#000" stroke-width="1.0"/>
<text x="379.30" y="539.75" font-size="14.5" text-anchor="end" font-weight="bold" fill="#000" >40</text>
<line x1="382.00" y1="500.88" x2="385.00" y2="500.88" stroke="#000" stroke-width="1.0"/>
<text x="379.30" y="505.27" font-size="14.5" text-anchor="end" font-weight="bold" fill="#000" >60</text>
<line x1="382.00" y1="466.40" x2="385.00" y2="466.40" stroke="#000" stroke-width="1.0"/>
<text x="379.30" y="470.80" font-size="14.5" text-anchor="end" font-weight="bold" fill="#000" >80</text>
<line x1="433.20" y1="604.30" x2="433.20" y2="607.10" stroke="#000" stroke-width="1.0"/>
<line x1="479.10" y1="604.30" x2="479.10" y2="607.10" stroke="#000" stroke-width="1.0"/>
<rect x="389.00" y="470.00" width="14.50" height="12.50" fill="#959595" stroke="#333" stroke-width="1.2"/>
<rect x="389.00" y="489.60" width="14.50" height="12.80" fill="#fff" stroke="#000" stroke-width="1.3"/>
<line x1="397.70" y1="489.60" x2="397.70" y2="502.40" stroke="#000" stroke-width="1.2"/>
<line x1="389.00" y1="498.20" x2="403.50" y2="498.20" stroke="#000" stroke-width="1.2"/>
<text x="407.50" y="480.60" font-size="13.2" text-anchor="start" font-weight="bold" fill="#000" >CD41</text>
<text x="408.30" y="499.80" font-size="13.2" text-anchor="start" font-weight="bold" fill="#000" >anx V</text>
<text x="413.40" y="620.20" font-size="14.6" text-anchor="middle" font-weight="bold" fill="#000" >PRP</text>
<text x="457.00" y="620.20" font-size="14.6" text-anchor="middle" font-weight="bold" fill="#000" >PPP</text>
<text x="359.00" y="636.20" font-size="15.6" text-anchor="start" font-weight="bold" fill="#000" >Shear rate 10000 s<tspan dy="-4.3" dx="0.6" font-size="9">-1</tspan></text>
<text transform="translate(333.60,534.80) rotate(-90)" font-size="15.60" text-anchor="middle" font-weight="bold">Fold increase</text>
<text transform="translate(353.20,534.80) rotate(-90)" font-size="15.60" text-anchor="middle" font-weight="bold">above baseline</text>
</svg></body></html>
